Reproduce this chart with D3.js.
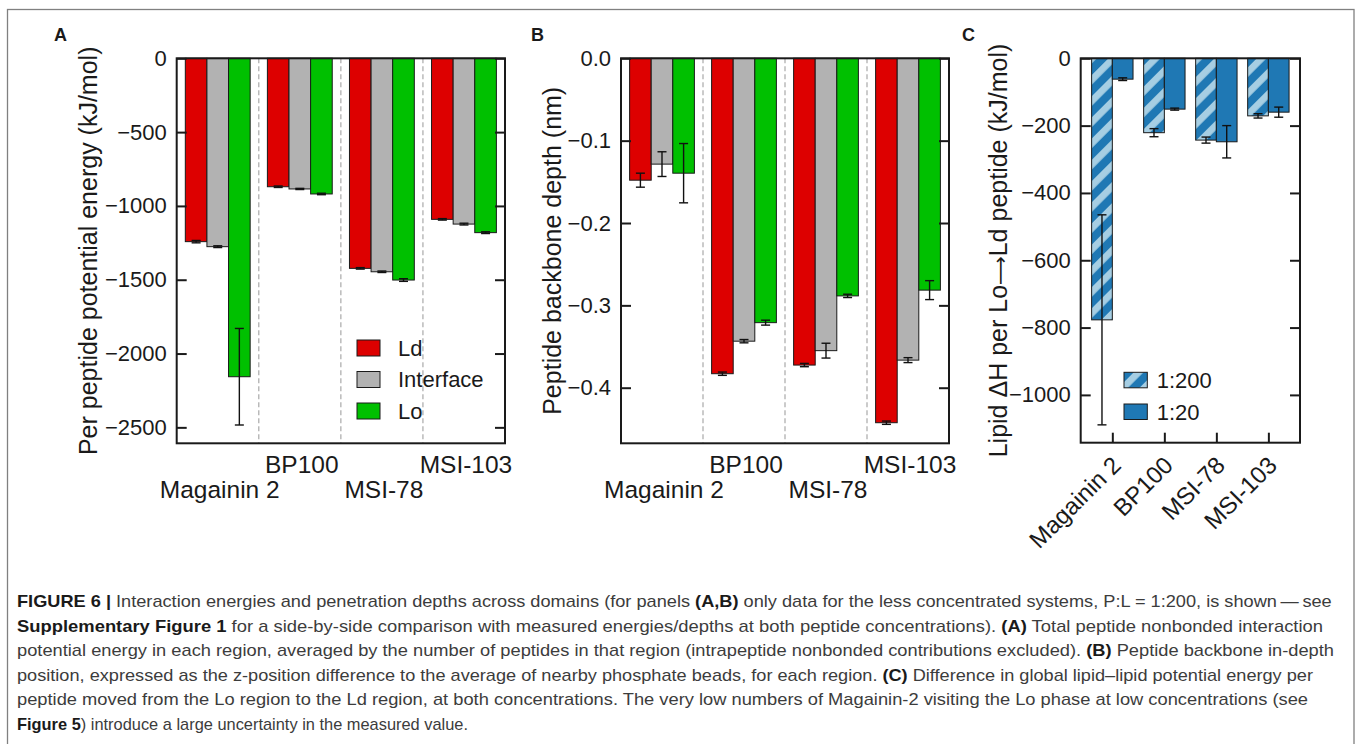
<!DOCTYPE html>
<html>
<head>
<meta charset="utf-8">
<script src="https://d3js.org/d3.v7.min.js"></script>
<style>
  body { margin: 0; background: #fff; }
  svg text { font-family: "Liberation Sans", Arial, sans-serif; fill: #1a1a1a; }
  .caption text { font-family: "Liberation Sans", Arial, sans-serif; fill: #3c3c3c; }
</style>
</head>
<body>
<div id="chart"></div>
<script>
// peptides and membrane regions
var peptides = ["Magainin 2", "BP100", "MSI-78", "MSI-103"];
var regions = ["Ld", "Interface", "Lo"];
var ratios = ["1:200", "1:20"];

// (A) per peptide potential energy, kJ/mol
var energyLd        = [-1242, -870, -1423, -1091];
var energyInterface = [-1276, -885, -1446, -1123];
var energyLo        = [-2157, -919, -1502, -1181];
var energyLdErr        = [8, 5, 5, 5];
var energyInterfaceErr = [6, 4, 5, 6];
var energyLoErr        = [327, 5, 9, 6];

// (B) peptide backbone depth, nm
var depthLd        = [-0.148, -0.383, -0.3725, -0.4425];
var depthInterface = [-0.1285, -0.3435, -0.355, -0.3665];
var depthLo        = [-0.1395, -0.321, -0.2885, -0.2815];
var depthLdErr        = [0.0085, 0.002, 0.002, 0.002];
var depthInterfaceErr = [0.015, 0.002, 0.009, 0.003];
var depthLoErr        = [0.036, 0.003, 0.002, 0.0115];

// (C) lipid dH per Lo->Ld peptide, kJ/mol
var dH200 = [-777, -221, -243, -171];
var dH20  = [-62, -151, -248, -160];
var dH200Err = [312, 12, 9, 6.5];
var dH20Err  = [4, 3, 48, 15];

// tick values
var energyTicks = [0, -500, -1000, -1500, -2000, -2500];
var depthTicks = [0, -0.1, -0.2, -0.3, -0.4];
var dHTicks = [0, -200, -400, -600, -800, -1000];

var regionColor = {"Ld": "#dd0000", "Interface": "#b2b2b2", "Lo": "#00c000"};
var minus = function(s) { return s.replace("-", "\u2212"); };

var svg = d3.select("#chart").append("svg")
  .attr("width", 1357)
  .attr("height", 744);

svg.append("rect").attr("width", 1357).attr("height", 744).attr("fill", "#fff");

// figure frame
svg.append("rect")
  .attr("x", 7.5).attr("y", 9.5)
  .attr("width", 1346.5).attr("height", 780)
  .attr("fill", "none")
  .attr("stroke", "#808080")
  .attr("stroke-width", 1.3);

// hatch for the 1:200 bars
var defs = svg.append("defs");
var pat = defs.append("pattern")
  .attr("id", "hatch")
  .attr("patternUnits", "userSpaceOnUse")
  .attr("width", 15).attr("height", 15)
  .attr("patternTransform", "rotate(45)");
pat.append("rect").attr("width", 15).attr("height", 15).attr("fill", "#1f78b4");
pat.append("rect").attr("width", 6.8).attr("height", 15).attr("fill", "#a6cee3");

function errorBar(g, x, y0, y1, cap) {
  g.append("line").attr("x1", x).attr("x2", x).attr("y1", y0).attr("y2", y1)
    .attr("stroke", "#111").attr("stroke-width", 1.4);
  [y0, y1].forEach(function(yy) {
    g.append("line").attr("x1", x - cap / 2).attr("x2", x + cap / 2)
      .attr("y1", yy).attr("y2", yy)
      .attr("stroke", "#111").attr("stroke-width", 1.4);
  });
}

///////////////////// panels A and B /////////////////////
function groupedPanel(opt) {
  var g = svg.append("g");
  var x0 = d3.scaleBand().domain(peptides).range([opt.left, opt.right]);
  var bw = x0.bandwidth();
  var x1 = d3.scaleBand().domain(regions).range([bw * 0.105, bw * 0.895]);
  var y = d3.scaleLinear().domain(opt.domain).range([opt.bottom, opt.top]);

  var rows = [];
  peptides.forEach(function(p, i) {
    regions.forEach(function(r, j) {
      rows.push({pep: p, reg: r, v: opt.values[j][i], e: opt.errors[j][i]});
    });
  });

  // dividers
  peptides.slice(1).forEach(function(p) {
    g.append("line")
      .attr("x1", x0(p)).attr("x2", x0(p))
      .attr("y1", opt.top).attr("y2", opt.bottom)
      .attr("stroke", "#b0b0b0").attr("stroke-width", 1.3)
      .attr("stroke-dasharray", "5,3");
  });

  g.selectAll(".bar").data(rows).enter().append("rect")
    .attr("x", function(d) { return x0(d.pep) + x1(d.reg); })
    .attr("y", y(0))
    .attr("width", x1.bandwidth())
    .attr("height", function(d) { return y(d.v) - y(0); })
    .attr("fill", function(d) { return regionColor[d.reg]; })
    .attr("stroke", "#1a1a1a").attr("stroke-width", 1);

  rows.forEach(function(d) {
    var cx = x0(d.pep) + x1(d.reg) + x1.bandwidth() / 2;
    errorBar(g, cx, y(d.v + d.e), y(d.v - d.e), 9);
  });

  // axes, ticks pointing inward
  var left = g.append("g").attr("transform", "translate(" + opt.left + ",0)")
    .call(d3.axisLeft(y).tickValues(opt.ticks).tickSizeInner(-10).tickSizeOuter(0)
      .tickPadding(10).tickFormat(function(d) { return minus(opt.fmt(d)); }));
  left.select(".domain").remove();
  left.selectAll("line").attr("stroke", "#1a1a1a").attr("stroke-width", 2);
  left.selectAll("text").style("font-size", "22px").style("font-family", "Liberation Sans, Arial, sans-serif");

  var right = g.append("g").attr("transform", "translate(" + opt.right + ",0)")
    .call(d3.axisRight(y).tickValues(opt.ticks).tickSizeInner(-10).tickSizeOuter(0).tickFormat(""));
  right.select(".domain").remove();
  right.selectAll("line").attr("stroke", "#1a1a1a").attr("stroke-width", 2);

  g.append("rect")
    .attr("x", opt.left).attr("y", opt.top)
    .attr("width", opt.right - opt.left).attr("height", opt.bottom - opt.top)
    .attr("fill", "none").attr("stroke", "#1a1a1a").attr("stroke-width", 2);

  // staggered peptide names
  peptides.forEach(function(p, i) {
    g.append("text")
      .attr("x", x0(p) + bw / 2 + 2)
      .attr("y", i % 2 === 1 ? opt.bottom + 30 : opt.bottom + 55)
      .attr("text-anchor", "middle")
      .style("font-size", "24.5px")
      .text(p);
  });

  g.append("text")
    .attr("transform", "translate(" + opt.titleX + "," + ((opt.top + opt.bottom) / 2) + ") rotate(-90)")
    .attr("text-anchor", "middle")
    .attr("dy", "0.35em")
    .style("font-size", "25px")
    .text(opt.title);

  g.append("text")
    .attr("x", opt.labelX).attr("y", 41)
    .style("font-size", "18px").style("font-weight", "bold")
    .text(opt.label);

  return g;
}

var gA = groupedPanel({
  left: 176.7, right: 505, top: 58.3, bottom: 443.3,
  domain: [-2608, 0], ticks: energyTicks, fmt: d3.format("d"),
  values: [energyLd, energyInterface, energyLo],
  errors: [energyLdErr, energyInterfaceErr, energyLoErr],
  title: "Per peptide potential energy (kJ/mol)", titleX: 88,
  label: "A", labelX: 54
});

groupedPanel({
  left: 621, right: 949, top: 58.3, bottom: 443.3,
  domain: [-0.4675, 0], ticks: depthTicks, fmt: d3.format(".1f"),
  values: [depthLd, depthInterface, depthLo],
  errors: [depthLdErr, depthInterfaceErr, depthLoErr],
  title: "Peptide backbone depth (nm)", titleX: 552,
  label: "B", labelX: 531
});

// legend A
regions.forEach(function(r, i) {
  var ly = 340 + i * 31.5;
  gA.append("rect").attr("x", 357).attr("y", ly).attr("width", 23).attr("height", 16)
    .attr("fill", regionColor[r]).attr("stroke", "#1a1a1a").attr("stroke-width", 1);
  gA.append("text").attr("x", 398).attr("y", ly + 8).attr("dy", "0.36em")
    .style("font-size", "22px").text(r);
});

///////////////////// panel C /////////////////////
var gC = svg.append("g");
var cLeft = 1080.7, cRight = 1300, cTop = 58.3, cBottom = 442.7;
var xc = d3.scalePoint().domain(peptides).range([cLeft, cRight]).padding(0.608);
var yc = d3.scaleLinear().domain([-1142, 0]).range([cBottom, cTop]);
var cbw = 20.7;

var cRows = [];
peptides.forEach(function(p, i) {
  cRows.push({pep: p, ratio: "1:200", v: dH200[i], e: dH200Err[i], off: -cbw});
  cRows.push({pep: p, ratio: "1:20", v: dH20[i], e: dH20Err[i], off: 0});
});

gC.selectAll(".bar").data(cRows).enter().append("rect")
  .attr("x", function(d) { return xc(d.pep) + d.off; })
  .attr("y", yc(0))
  .attr("width", cbw)
  .attr("height", function(d) { return yc(d.v) - yc(0); })
  .attr("fill", function(d) { return d.ratio === "1:200" ? "url(#hatch)" : "#1f78b4"; })
  .attr("stroke", "#1a1a1a").attr("stroke-width", 1);

cRows.forEach(function(d) {
  errorBar(gC, xc(d.pep) + d.off + cbw / 2, yc(d.v + d.e), yc(d.v - d.e), 9);
});

var cl = gC.append("g").attr("transform", "translate(" + cLeft + ",0)")
  .call(d3.axisLeft(yc).tickValues(dHTicks).tickSizeInner(-10).tickSizeOuter(0)
    .tickPadding(10).tickFormat(function(d) { return minus(String(d)); }));
cl.select(".domain").remove();
cl.selectAll("line").attr("stroke", "#1a1a1a").attr("stroke-width", 2);
cl.selectAll("text").style("font-size", "22px").style("font-family", "Liberation Sans, Arial, sans-serif");

var cr = gC.append("g").attr("transform", "translate(" + cRight + ",0)")
  .call(d3.axisRight(yc).tickValues(dHTicks).tickSizeInner(-10).tickSizeOuter(0).tickFormat(""));
cr.select(".domain").remove();
cr.selectAll("line").attr("stroke", "#1a1a1a").attr("stroke-width", 2);

var cb = gC.append("g").attr("transform", "translate(0," + cBottom + ")")
  .call(d3.axisBottom(xc).tickSizeInner(-10).tickSizeOuter(0).tickFormat(""));
cb.select(".domain").remove();
cb.selectAll("line").attr("stroke", "#1a1a1a").attr("stroke-width", 2);

gC.append("rect")
  .attr("x", cLeft).attr("y", cTop)
  .attr("width", cRight - cLeft).attr("height", cBottom - cTop)
  .attr("fill", "none").attr("stroke", "#1a1a1a").attr("stroke-width", 2);

peptides.forEach(function(p) {
  gC.append("text")
    .attr("transform", "translate(" + (xc(p) + 10) + "," + (cBottom + 24) + ") rotate(-45)")
    .attr("text-anchor", "end")
    .style("font-size", "24px")
    .text(p);
});

var cTitle = gC.append("text")
  .attr("transform", "translate(998," + ((cTop + cBottom) / 2) + ") rotate(-90)")
  .attr("text-anchor", "middle")
  .attr("dy", "0.35em")
  .style("font-size", "25px");
cTitle.append("tspan").text("Lipid \u0394H per Lo");
cTitle.append("tspan").style("font-family", "DejaVu Sans, sans-serif").style("font-size", "20px").text("\u27F6");
cTitle.append("tspan").text("Ld peptide (kJ/mol)");

gC.append("text").attr("x", 962).attr("y", 41)
  .style("font-size", "18px").style("font-weight", "bold").text("C");

// legend C
ratios.forEach(function(r, i) {
  var ly = 372.3 + i * 31.7;
  gC.append("rect").attr("x", 1124).attr("y", ly).attr("width", 23.3).attr("height", 15.5)
    .attr("fill", r === "1:200" ? "url(#hatch)" : "#1f78b4")
    .attr("stroke", "#1a1a1a").attr("stroke-width", 1);
  gC.append("text").attr("x", 1156.7).attr("y", ly + 7.8).attr("dy", "0.36em")
    .style("font-size", "22px").text(r);
});

///////////////////// caption /////////////////////
var captionLines = [
  [["FIGURE 6 | ", true], ["Interaction energies and penetration depths across domains (for panels ", false], ["(A,B)", true], [" only data for the less concentrated systems, P:L = 1:200, is shown\u2009\u2014\u2009see", false]],
  [["Supplementary Figure 1", true], [" for a side-by-side comparison with measured energies/depths at both peptide concentrations). ", false], ["(A)", true], [" Total peptide nonbonded interaction", false]],
  [["potential energy in each region, averaged by the number of peptides in that region (intrapeptide nonbonded contributions excluded). ", false], ["(B)", true], [" Peptide backbone in-depth", false]],
  [["position, expressed as the z-position difference to the average of nearby phosphate beads, for each region. ", false], ["(C)", true], [" Difference in global lipid\u2013lipid potential energy per", false]],
  [["peptide moved from the Lo region to the Ld region, at both concentrations. The very low numbers of Magainin-2 visiting the Lo phase at low concentrations (see", false]],
  [["Figure 5", true], [") introduce a large uncertainty in the measured value.", false]]
];
// right end of each caption line
var captionEnds = [1331.7, 1323, 1334, 1313, 1308, 468];

var cap = svg.append("g").attr("class", "caption");
captionLines.forEach(function(parts, i) {
  var t = cap.append("text")
    .attr("x", 17).attr("y", 607 + i * 24.6)
    .attr("textLength", captionEnds[i] - 17)
    .attr("lengthAdjust", "spacingAndGlyphs")
    .style("font-size", "17px");
  parts.forEach(function(p) {
    t.append("tspan")
      .style("font-weight", p[1] ? "bold" : "normal")
      .style("fill", p[1] ? "#1a1a1a" : "#3c3c3c")
      .text(p[0]);
  });
});
</script>
</body>
</html>
